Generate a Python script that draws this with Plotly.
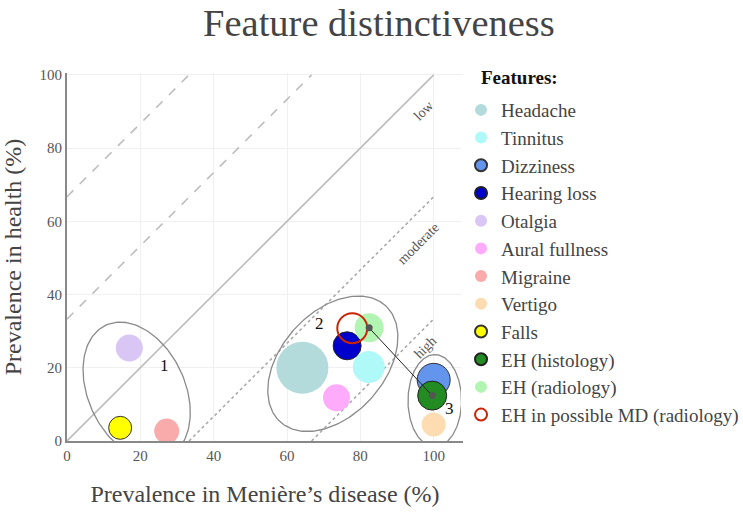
import numpy as np
import plotly.graph_objects as go

# ---- data ----
features = ["Headache", "Tinnitus", "Dizziness", "Hearing loss", "Otalgia",
            "Aural fullness", "Migraine", "Vertigo", "Falls", "EH (histology)",
            "EH (radiology)", "EH in possible MD (radiology)"]
prev_md = [64.2, 82.3, 100.0, 76.4, 17.0, 73.5, 27.2, 100.0, 14.5, 99.6, 82.4, 77.8]
prev_health = [20.0, 20.2, 16.7, 26.0, 25.4, 11.8, 2.7, 4.5, 3.6, 12.4, 30.9, 30.8]

# cluster ellipses (centre x, centre y, semi-axis a, semi-axis b, angle deg)
cluster_labels = ["1", "2", "3"]
cluster_cx = [19.0, 72.5, 100.3]
cluster_cy = [13.6, 21.1, 11.0]
cluster_a = [19.9, 21.4, 12.6]
cluster_b = [13.2, 14.1, 7.3]
cluster_angle = [115, 48, 90]
cluster_label_x = [26.6, 68.8, 104.4]
cluster_label_y = [20.6, 32.2, 9.0]

# distinctiveness reference lines (offset of y = x + c)
band_offsets = [66.7, 33.3, 0.0, -33.3, -66.7]
band_names = ["low", "moderate", "high"]
band_label_x = [97.3, 95.8, 97.7]
band_label_y = [90.2, 54.0, 25.5]

x_ticks = [0, 20, 40, 60, 80, 100]
y_ticks = [0, 20, 40, 60, 80, 100]

# ---- styles ----
bubble_px = [52, 32, 33, 28, 27, 27, 25, 24, 23, 29, 29, 30]
colors = ["#b3dbdb", "#b0f9f9", "#6495ed", "#0000cd", "#d9c6f5", "#ffabfb",
          "#f9abab", "#fddcb2", "#ffff00", "#228b22", "#b2f5b2", "rgba(0,0,0,0)"]
outline = [None, None, "#333", "#222", None, None, None, None, "#333", "#222", None, "#cc2200"]

SERIF = "Liberation Serif, Times New Roman, serif"
fig = go.Figure()

# reference lines
for c in band_offsets:
    x0 = max(0.0, -c)
    x1 = min(100.0, 100.0 - c)
    if c > 0:
        dash, col = "dash", "#bdbdbd"
    elif c < 0:
        dash, col = "dot", "#aaaaaa"
    else:
        dash, col = "solid", "#bdbdbd"
    fig.add_trace(go.Scatter(x=[x0, x1], y=[x0 + c, x1 + c], mode="lines",
                             line=dict(color=col, width=1.6, dash=dash),
                             showlegend=False, hoverinfo="skip"))

# ellipses
t = np.linspace(0, 2 * np.pi, 200)
for cx, cy, a, b, ang in zip(cluster_cx, cluster_cy, cluster_a, cluster_b, cluster_angle):
    th = np.deg2rad(ang)
    ex = cx + a * np.cos(t) * np.cos(th) - b * np.sin(t) * np.sin(th)
    ey = cy + a * np.cos(t) * np.sin(th) + b * np.sin(t) * np.cos(th)
    fig.add_trace(go.Scatter(x=ex, y=ey, mode="lines",
                             line=dict(color="#8a8a8a", width=1.3),
                             showlegend=False, hoverinfo="skip"))

# bubbles
for i, name in enumerate(features):
    if outline[i] is None:
        mline = dict(width=0)
    elif name.startswith("EH in"):
        mline = dict(width=2, color=outline[i])
    else:
        mline = dict(width=1, color=outline[i])
    fig.add_trace(go.Scatter(x=[prev_md[i]], y=[prev_health[i]], mode="markers",
                             name=name,
                             marker=dict(size=bubble_px[i], color=colors[i], line=mline)))

# connecting line EH radiology -> EH histology
i_r = features.index("EH (radiology)")
i_h = features.index("EH (histology)")
fig.add_trace(go.Scatter(x=[prev_md[i_r], prev_md[i_h]], y=[prev_health[i_r], prev_health[i_h]],
                         mode="lines+markers", line=dict(color="#222", width=1),
                         marker=dict(size=7, color="#555"),
                         showlegend=False, hoverinfo="skip"))

annotations = []
for lab, lx, ly in zip(cluster_labels, cluster_label_x, cluster_label_y):
    annotations.append(dict(x=lx, y=ly, text=lab, showarrow=False,
                            font=dict(family=SERIF, size=17, color="#111")))
for lab, lx, ly in zip(band_names, band_label_x, band_label_y):
    annotations.append(dict(x=lx, y=ly, text=lab, showarrow=False, textangle=-45,
                            font=dict(family=SERIF, size=14, color="#555")))
# legend heading
annotations.append(dict(xref="paper", yref="paper", x=1.04, y=0.989, xanchor="left",
                        yanchor="middle", text="<b>Features:</b>", showarrow=False,
                        font=dict(family=SERIF, size=19, color="#111")))

fig.update_layout(
    width=743, height=513,
    margin=dict(l=67, r=280, t=73, b=72, autoexpand=False),
    paper_bgcolor="white", plot_bgcolor="white",
    title=dict(text="Feature distinctiveness", x=0.51, xanchor="center",
               y=0.982, yanchor="top", yref="container",
               font=dict(family=SERIF, size=38.5, color="#444")),
    font=dict(family=SERIF, color="#555"),
    xaxis=dict(range=[0, 108], tickvals=x_ticks, ticktext=[str(v) for v in x_ticks],
               showgrid=True, gridcolor="#f0f0f0", zeroline=False,
               showline=True, linecolor="#888", linewidth=2,
               tickfont=dict(family=SERIF, size=15, color="#555"),
               title=dict(text="Prevalence in Menière’s disease (%)", standoff=22,
                          font=dict(family=SERIF, size=24, color="#444"))),
    yaxis=dict(range=[0, 100.5], tickvals=y_ticks, ticktext=[str(v) for v in y_ticks],
               showgrid=True, gridcolor="#f0f0f0", zeroline=False,
               showline=True, linecolor="#888", linewidth=2,
               tickfont=dict(family=SERIF, size=15, color="#555"),
               title=dict(text="Prevalence in health (%)", standoff=14,
                          font=dict(family=SERIF, size=24, color="#444"))),
    legend=dict(x=0.995, y=0.951, xanchor="left", yanchor="top",
                itemsizing="constant", maxheight=480,
                font=dict(family=SERIF, size=19, color="#444")),
    annotations=annotations,
    showlegend=True,
)

fig.write_html("out.html", config={"displayModeBar": False},
               post_script="document.body.style.margin='0px';")
